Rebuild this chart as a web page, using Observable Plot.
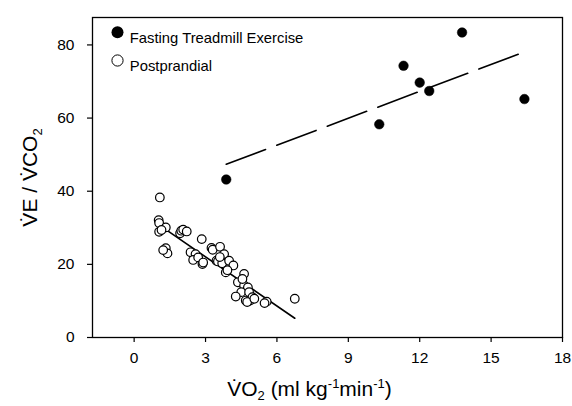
<!DOCTYPE html>
<html>
<head>
<meta charset="utf-8">
<script src="https://cdn.jsdelivr.net/npm/d3@7"></script>
<script src="https://cdn.jsdelivr.net/npm/@observablehq/plot@0.6"></script>
<style>
  html, body { margin: 0; padding: 0; background: #fff; }
  svg { font-family: "Liberation Sans", Arial, sans-serif; }
</style>
</head>
<body>
<div id="chart"></div>
<script>
// Fasting treadmill exercise: VO2 (ml/kg/min) vs VE/VCO2
const fastingVO2 = [3.87, 10.3, 11.32, 12.0, 12.4, 13.78, 16.4];
const fastingVE  = [43.2, 58.3, 74.3, 69.7, 67.4, 83.4, 65.2];

// Postprandial
const postVO2 = [1.08, 1.03, 1.05, 1.33, 1.05, 1.15, 1.33, 1.40, 1.22, 1.93, 1.98, 2.06, 2.21,
  2.84, 2.37, 2.58, 2.48, 2.69, 2.87, 2.90, 3.25, 3.30, 3.61, 3.78, 3.46, 3.52, 3.70, 3.99,
  4.17, 3.85, 3.92, 4.62, 4.36, 4.62, 4.78, 4.50, 4.27, 4.69, 4.87, 4.83, 4.97, 5.57, 5.48,
  6.75, 4.55, 3.60, 4.75, 5.05];
const postVE = [38.3, 32.1, 31.3, 30.1, 28.9, 29.4, 24.4, 23.0, 23.9, 28.5, 29.2, 29.5, 29.0,
  26.9, 23.3, 22.8, 21.2, 21.9, 20.1, 20.5, 24.5, 24.0, 24.8, 22.8, 21.0, 20.8, 20.3, 21.0,
  19.7, 17.8, 18.4, 17.4, 15.1, 14.2, 13.7, 12.4, 11.2, 10.1, 10.1, 12.4, 11.0, 9.8, 9.4,
  10.6, 16.0, 22.0, 9.7, 10.6];

const xTicks = [0, 3, 6, 9, 12, 15, 18];
const yTicks = [0, 20, 40, 60, 80];
const legendLabels = ["Fasting Treadmill Exercise", "Postprandial"];

const fasting = fastingVO2.map((x, i) => ({x, y: fastingVE[i]}));
const post = postVO2.map((x, i) => ({x, y: postVE[i]}));

const font = "Liberation Sans, Arial, sans-serif";

const plot = Plot.plot({
  width: 572,
  height: 406,
  marginLeft: 92,
  marginRight: 10,
  marginTop: 17,
  marginBottom: 69,
  style: {fontFamily: font, background: "#fff", color: "#000"},
  x: {domain: [-1.75, 18]},
  y: {domain: [0, 87.5]},
  marks: [
    Plot.axisX({ticks: xTicks, tickSize: 5, tickPadding: 9, fontSize: 15.5, label: null, stroke: "#000", strokeWidth: 1.2}),
    Plot.axisY({ticks: yTicks, tickSize: 5, tickPadding: 13, fontSize: 15.5, label: null, stroke: "#000", strokeWidth: 1.2}),
    Plot.linearRegressionY(fasting, {x: "x", y: "y", ci: 0, stroke: "#000", strokeWidth: 1.6, strokeDasharray: "42,12"}),
    Plot.linearRegressionY(post, {x: "x", y: "y", ci: 0, stroke: "#000", strokeWidth: 1.6}),
    Plot.dot(post, {x: "x", y: "y", r: 4.3, fill: "#fff", stroke: "#000", strokeWidth: 1.2}),
    Plot.dot(fasting, {x: "x", y: "y", r: 4.8, fill: "#000", stroke: "#000", strokeWidth: 0.5}),
    Plot.frame({stroke: "#000", strokeWidth: 1.3}),
    // legend
    Plot.dot([legendLabels[0]], {frameAnchor: "top-left", dx: 25, dy: 14.7, r: 6, fill: "#000"}),
    Plot.dot([legendLabels[1]], {frameAnchor: "top-left", dx: 25, dy: 43, r: 5.6, fill: "#fff", stroke: "#000", strokeWidth: 1}),
    Plot.text([legendLabels[0]], {frameAnchor: "top-left", dx: 37.3, dy: 14.7, text: d => d, textAnchor: "start", fontSize: 14.8, fill: "#000"}),
    Plot.text([legendLabels[1]], {frameAnchor: "top-left", dx: 37.3, dy: 43, text: d => d, textAnchor: "start", fontSize: 14.8, fill: "#000"})
  ]
});

document.getElementById("chart").appendChild(plot);

const svg = d3.select(plot);
// x axis label
const xl = svg.append("text")
  .attr("x", 309.5).attr("y", 396)
  .attr("text-anchor", "middle")
  .attr("font-family", font)
  .attr("font-size", 21)
  .attr("fill", "#000");
xl.append("tspan").text("V\u0307O");
xl.append("tspan").attr("font-size", 13).attr("dy", 4).text("2");
xl.append("tspan").attr("dy", -4).text(" (ml kg");
xl.append("tspan").attr("font-size", 13).attr("dy", -8).text("-1");
xl.append("tspan").attr("dy", 8).text("min");
xl.append("tspan").attr("font-size", 13).attr("dy", -8).text("-1");
xl.append("tspan").attr("dy", 8).text(")");

// y axis label
const yl = svg.append("text")
  .attr("transform", "translate(37,177.5) rotate(-90)")
  .attr("text-anchor", "middle")
  .attr("font-family", font)
  .attr("font-size", 21)
  .attr("fill", "#000");
yl.append("tspan").text("V\u0307E / V\u0307CO");
yl.append("tspan").attr("font-size", 13).attr("dy", 5).text("2");
</script>
</body>
</html>
